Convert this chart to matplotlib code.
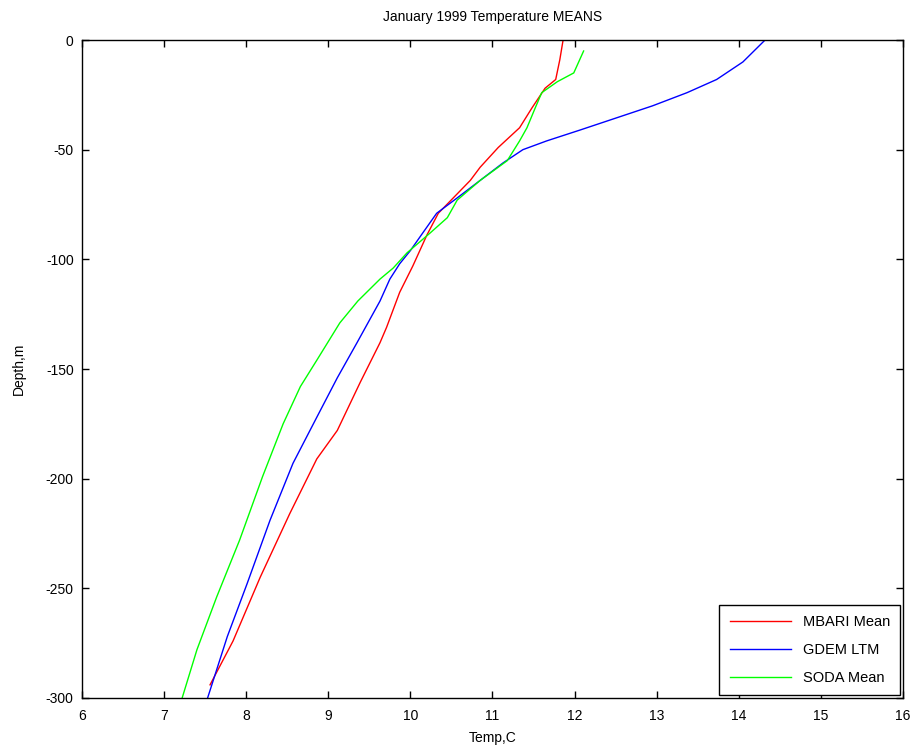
import matplotlib
matplotlib.use("Agg")
import matplotlib.pyplot as plt

# MBARI Mean
mbari_t = [11.86, 11.82, 11.77, 11.64, 11.48, 11.33, 11.07, 10.85, 10.73, 10.34,
           10.20, 10.03, 9.87, 9.71, 9.63, 9.39, 9.11, 8.86, 8.53, 8.17, 7.84, 7.56]
mbari_d = [0, -9, -18, -22, -31, -40, -49, -58, -64, -79,
           -89, -103, -115, -131, -138, -156, -178, -191, -216, -245, -274, -294]

# GDEM LTM
gdem_t = [14.32, 14.05, 13.73, 13.37, 12.95, 12.47, 12.07, 11.66, 11.37, 11.13,
          10.85, 10.57, 10.32, 10.15, 10.00, 9.87, 9.75, 9.63, 9.35, 9.11,
          8.86, 8.57, 8.29, 8.01, 7.77, 7.53]
gdem_d = [0, -10, -18, -24, -30, -36, -41, -46, -50, -56,
          -64, -72, -79, -88, -96, -102, -109, -119, -138, -154,
          -172, -193, -219, -248, -272, -300]

# SODA Mean
soda_t = [12.11, 11.99, 11.79, 11.60, 11.52, 11.42, 11.33, 11.18, 10.85, 10.57,
          10.45, 10.24, 9.96, 9.79, 9.63, 9.36, 9.14, 8.86, 8.66, 8.45,
          8.20, 7.92, 7.64, 7.40, 7.22]
soda_d = [-5, -15, -19, -24, -31, -40, -46, -55, -64, -73,
          -81, -88, -97, -104, -109, -119, -129, -146, -158, -175,
          -199, -228, -254, -278, -300]

plt.rcParams["font.family"] = ["Liberation Sans", "DejaVu Sans"]
plt.rcParams["font.size"] = 10
plt.rcParams["axes.unicode_minus"] = False

fig = plt.figure(figsize=(9.16, 7.55), dpi=100)
ax = fig.add_axes([0.0895, 0.0755, 0.8963, 0.8715])

ax.plot(mbari_t, mbari_d, color="#ff0000", linewidth=1, label="MBARI Mean")
ax.plot(gdem_t, gdem_d, color="#0000ff", linewidth=1, label="GDEM LTM")
ax.plot(soda_t, soda_d, color="#00ff00", linewidth=1, label="SODA Mean")

ax.set_xlim(6, 16)
ax.set_ylim(-300, 0)
ax.set_xticks(range(6, 17))
ax.set_yticks(range(-300, 1, 50))
ax.tick_params(direction="in", top=True, right=True, length=5, width=1)
ax.tick_params(axis="x", pad=8)
ax.tick_params(axis="y", pad=6)
for s in ax.spines.values():
    s.set_linewidth(1)

ax.set_xlabel("Temp,C", labelpad=6)
ax.set_ylabel("Depth,m", labelpad=14)
ax.set_title("January 1999 Temperature MEANS", fontsize=10, pad=14)

leg = ax.legend(loc="lower right", fancybox=False, edgecolor="black",
                framealpha=1, fontsize=10.5, handlelength=4.2,
                labelspacing=0.95, borderpad=0.7, borderaxespad=0.2)
leg.get_frame().set_linewidth(1)

fig.savefig("out.png", dpi=100)
